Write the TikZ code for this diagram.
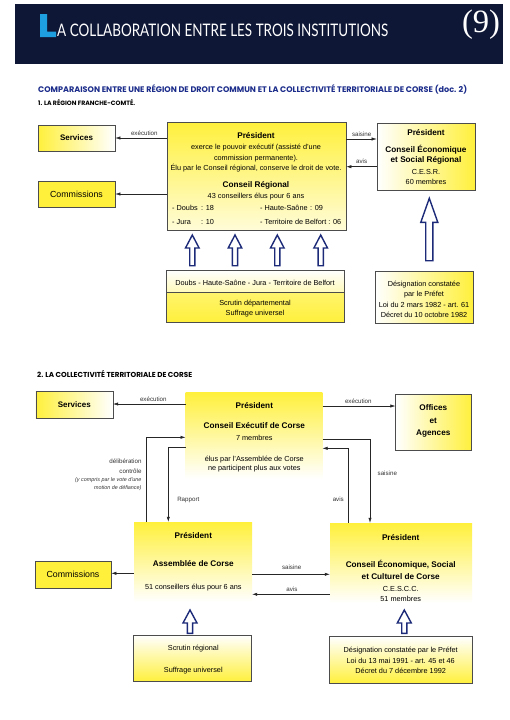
\documentclass[tikz,border=0pt]{standalone}
\usepackage{fontspec}
\usepackage{graphicx}
\setmainfont{Liberation Sans}
\newfontfamily\titlefont{Lato}
\newfontfamily\subfont{Poppins}
\newfontfamily\numfont{Liberation Serif}
\usetikzlibrary{arrows.meta}
\definecolor{navy}{HTML}{0E1736}
\definecolor{lblue}{HTML}{1E9FE0}
\definecolor{dblue}{HTML}{1B2C8A}
\definecolor{arrblue}{HTML}{1C2A78}
\definecolor{ylw}{HTML}{FFF03C}
\newcommand{\hollowup}[6]{\draw[hollow] ({#1-#5},#2) -- ({#1-#5},{#3+#6}) -- ({#1-#4},{#3+#6}) -- (#1,#3) -- ({#1+#4},{#3+#6}) -- ({#1+#5},{#3+#6}) -- ({#1+#5},#2) -- cycle;}
\begin{document}
\begin{tikzpicture}[x=1pt,y=-1pt,
  hd/.style={font=\bfseries\fontsize{8.2}{9.5}\selectfont, inner sep=0pt, text height=7pt, text depth=1.2pt},
  tx/.style={font=\fontsize{7.3}{9}\selectfont, inner sep=0pt, text height=6.2pt, text depth=1.1pt},
  lb/.style={font=\fontsize{6.2}{7}\selectfont, inner sep=0pt, text=black!80, text height=5.3pt, text depth=0.9pt},
  it/.style={font=\itshape\fontsize{5.4}{6}\selectfont, inner sep=0pt, text=black!80, text height=4.6pt, text depth=0.8pt},
  box/.style={draw=black!70, line width=0.6pt, inner sep=0pt},
  arr/.style={-{Latex[length=5pt,width=3.2pt]}, line width=0.5pt, draw=black!85},
  hollow/.style={draw=arrblue, line width=1.4pt, fill=white, line join=miter}]
\useasboundingbox (0,0) rectangle (509,720);
\fill[white] (0,0) rectangle (509,720);
% header
\fill[navy] (15,4) rectangle (503,64);
\fill[lblue] (40,14) -- (47,14) -- (47,31.5) -- (56,31.5) -- (56,37) -- (40,37) -- cycle;
\node[anchor=base west, inner sep=0, text=white] (title) at (57,36) {\resizebox{331pt}{12.5pt}{\titlefont A COLLABORATION ENTRE LES TROIS INSTITUTIONS}};
\node[inner sep=0, text=white] (num) at (481,25) {\resizebox{38pt}{!}{\numfont (9)}};
\node[anchor=west, inner sep=0, text=dblue] (sub) at (38,89.5) {\resizebox{429pt}{!}{\subfont\bfseries COMPARAISON ENTRE UNE RÉGION DE DROIT COMMUN ET LA COLLECTIVITÉ TERRITORIALE DE CORSE (doc. 2)}};
\node[anchor=west, inner sep=0] (sec1) at (38,102.5) {\resizebox{97pt}{!}{\subfont\bfseries 1. LA RÉGION FRANCHE-COMTÉ.}};

% ===== Section 1 =====
\node[box, minimum width=77pt, minimum height=26pt, left color=ylw, right color=white, font=\bfseries\fontsize{8}{9}\selectfont] (serv1) at (76.5,138) {Services};
\node[box, minimum width=77pt, minimum height=26pt, fill=ylw, font=\fontsize{8.8}{10}\selectfont] (comm1) at (76.5,194) {Commissions};
\node[box, minimum width=179pt, minimum height=108pt, top color=ylw, bottom color=ylw!20] (cr) at (256.5,176) {};
\node[hd] (crp) at (256,135.7) {Président};
\node[tx] (cr1) at (256,147.3) {exerce le pouvoir exécutif (assisté d'une};
\node[tx] (cr2) at (256,157.7) {commission permanente).};
\node[tx] (cr3) at (256,167.7) {Élu par le Conseil régional, conserve le droit de vote.};
\node[hd] (crn) at (256,184.3) {Conseil Régional};
\node[tx] (cr4) at (256,196) {43 conseillers élus pour 6 ans};
\node[tx, anchor=west] (cr5) at (172,208.3) {\makebox[29pt][l]{- Doubs}: 18};
\node[tx, anchor=west] (cr6) at (260,208.3) {\makebox[50pt][l]{- Haute-Saône}: 09};
\node[tx, anchor=west] (cr7) at (172,221.7) {\makebox[29pt][l]{- Jura}: 10};
\node[tx, anchor=west] (cr8) at (260,221.7) {- Territoire de Belfort : 06};

\node[box, minimum width=98pt, minimum height=67pt, left color=white, right color=ylw] (cesr) at (426,156.5) {};
\node[hd] (ce1) at (426,132.3) {Président};
\node[hd] (ce2) at (426,150) {Conseil Économique};
\node[hd] (ce3) at (426,160) {et Social Régional};
\node[tx] (ce4) at (426,172.3) {C.E.S.R.};
\node[tx] (ce5) at (426,181.7) {60 membres};

\draw[arr] (cr.west |- serv1.east) -- (serv1.east);
\node[lb] (l1) at (144.3,133.3) {exécution};
\draw[arr] (cr.west |- comm1.east) -- (comm1.east);
\draw[arr] (cr.east |- 0,139) -- (cesr.west |- 0,139);
\node[lb] (l2) at (361.7,134.5) {saisine};
\draw[arr] (cesr.west |- 0,166.7) -- (cr.east |- 0,166.7);
\node[lb] (l3) at (361.7,161.5) {avis};

\node[box, minimum width=178pt, minimum height=22pt, top color=white, bottom color=ylw!35] (dep1) at (255,281) {};
\node[tx] (d1) at (255,283.3) {Doubs - Haute-Saône - Jura - Territoire de Belfort};
\node[box, minimum width=178pt, minimum height=30pt, top color=ylw!75, bottom color=ylw] (dep2) at (255,307) {};
\node[tx] (d2) at (255,302.7) {Scrutin départemental};
\node[tx] (d3) at (255,313.3) {Suffrage universel};

\node[box, minimum width=98pt, minimum height=52pt, left color=white, right color=ylw] (des1) at (424,297) {};
\node[tx] (g1) at (424,284) {Désignation constatée};
\node[tx] (g2) at (424,294.3) {par le Préfet};
\node[tx] (g3) at (424,305) {Loi du 2 mars 1982 - art. 61};
\node[tx] (g4) at (424,315.3) {Décret du 10 octobre 1982};

\hollowup{192.3}{265.7}{235}{6.8}{2.6}{13}
\hollowup{235}{265.7}{235}{6.8}{2.6}{13}
\hollowup{277.3}{265.7}{235}{6.8}{2.6}{13}
\hollowup{320.7}{265.7}{235}{6.8}{2.6}{13}
\hollowup{429.3}{260.7}{198.3}{8.5}{3.6}{24}

% ===== Section 2 =====
\node[anchor=west, inner sep=0] (sec2) at (37,374) {\resizebox{155pt}{!}{\subfont\bfseries 2. LA COLLECTIVITÉ TERRITORIALE DE CORSE}};

\node[box, minimum width=77pt, minimum height=26.6pt, left color=ylw, right color=white, font=\bfseries\fontsize{8}{9}\selectfont] (serv2) at (74.3,405) {Services};
\node[inner sep=0, minimum width=136.6pt, minimum height=86pt, top color=ylw, middle color=ylw!75, bottom color=white] (exe) at (254,435.3) {};
\node[hd] (e1) at (254.3,406) {Président};
\node[hd] (e2) at (254.3,425.7) {Conseil Exécutif de Corse};
\node[tx] (e3) at (254.3,437.7) {7 membres};
\node[tx] (e4) at (254.3,459) {élus par l'Assemblée de Corse};
\node[tx] (e5) at (254.3,468.3) {ne participent plus aux votes};

\node[box, minimum width=76pt, minimum height=55.7pt, left color=white, right color=ylw] (off) at (433.7,422.2) {};
\node[hd] (o1) at (433.3,407.7) {Offices};
\node[hd] (o2) at (433.3,420.7) {et};
\node[hd] (o3) at (433.3,432.3) {Agences};

\node[inner sep=0, minimum width=118pt, minimum height=80pt, top color=ylw, middle color=ylw!80, bottom color=white] (ass) at (193,562) {};
\node[hd] (a1) at (193.3,536) {Président};
\node[hd] (a2) at (193.3,563.3) {Assemblée de Corse};
\node[tx] (a3) at (193.3,586.7) {51 conseillers élus pour 6 ans};

\node[inner sep=0, minimum width=142pt, minimum height=80pt, top color=ylw, middle color=ylw!80, bottom color=white] (cescc) at (401,563) {};
\node[hd] (c1) at (400.7,537.3) {Président};
\node[hd] (c2) at (400.7,565) {Conseil Économique, Social};
\node[hd] (c3) at (400.7,576.7) {et Culturel de Corse};
\node[tx] (c4) at (400.7,589.3) {C.E.S.C.C.};
\node[tx] (c5) at (400.7,599.3) {51 membres};

\node[box, minimum width=76pt, minimum height=27pt, fill=ylw, font=\fontsize{8.8}{10}\selectfont] (comm2) at (73,574.5) {Commissions};

\node[box, minimum width=118.4pt, minimum height=46.7pt, top color=white, bottom color=ylw] (scr) at (192.5,658.3) {};
\node[tx] (s1) at (193.3,648.3) {Scrutin régional};
\node[tx] (s2) at (193.3,670) {Suffrage universel};

\node[box, minimum width=143pt, minimum height=46.7pt, top color=white, bottom color=ylw] (des2) at (400.8,660) {};
\node[tx] (h1) at (400.7,650) {Désignation constatée par le Préfet};
\node[tx] (h2) at (400.7,660.7) {Loi du 13 mai 1991 - art. 45 et 46};
\node[tx] (h3) at (400.7,671) {Décret du 7 décembre 1992};

\draw[arr] (exe.west |- 0,404) -- (serv2.east |- 0,404);
\node[lb] (m1) at (153.3,399.5) {exécution};
\draw[arr] (exe.east |- 0,406) -- (off.west |- 0,406);
\node[lb] (m2) at (358.3,401.5) {exécution};
\draw[arr] (ass.north -| 146,0) |- (exe.west |- 0,437.3);
\draw[arr] (exe.west |- 0,447.7) -| (ass.north -| 168.3,0);
\draw[arr] (exe.east |- 0,439.3) -| (cescc.north -| 370,0);
\draw[arr] (cescc.north -| 348.7,0) |- (exe.east |- 0,448.3);
\node[lb, anchor=east] (m3) at (141.7,461.7) {délibération};
\node[lb, anchor=east] (m4) at (141.7,471) {contrôle};
\node[it, anchor=east] (m5) at (141.7,479.3) {(y compris par le vote d'une};
\node[it, anchor=east] (m6) at (141.7,487.3) {motion de défiance)};
\node[lb] (m7) at (188.3,499) {Rapport};
\node[lb] (m8) at (338.3,499) {avis};
\node[lb] (m9) at (387.3,473.3) {saisine};

\draw[arr] (ass.west |- 0,573.3) -- (comm2.east |- 0,573.3);
\draw[arr] (ass.east |- 0,574.3) -- (cescc.west |- 0,574.3);
\node[lb] (m10) at (291.7,567) {saisine};
\draw[arr] (cescc.west |- 0,594.3) -- (ass.east |- 0,594.3);
\node[lb] (m11) at (292,589) {avis};

\hollowup{190}{633.3}{610}{7}{2.6}{13}
\hollowup{404.3}{633.3}{610}{7}{2.6}{13}
\end{tikzpicture}
\end{document}
